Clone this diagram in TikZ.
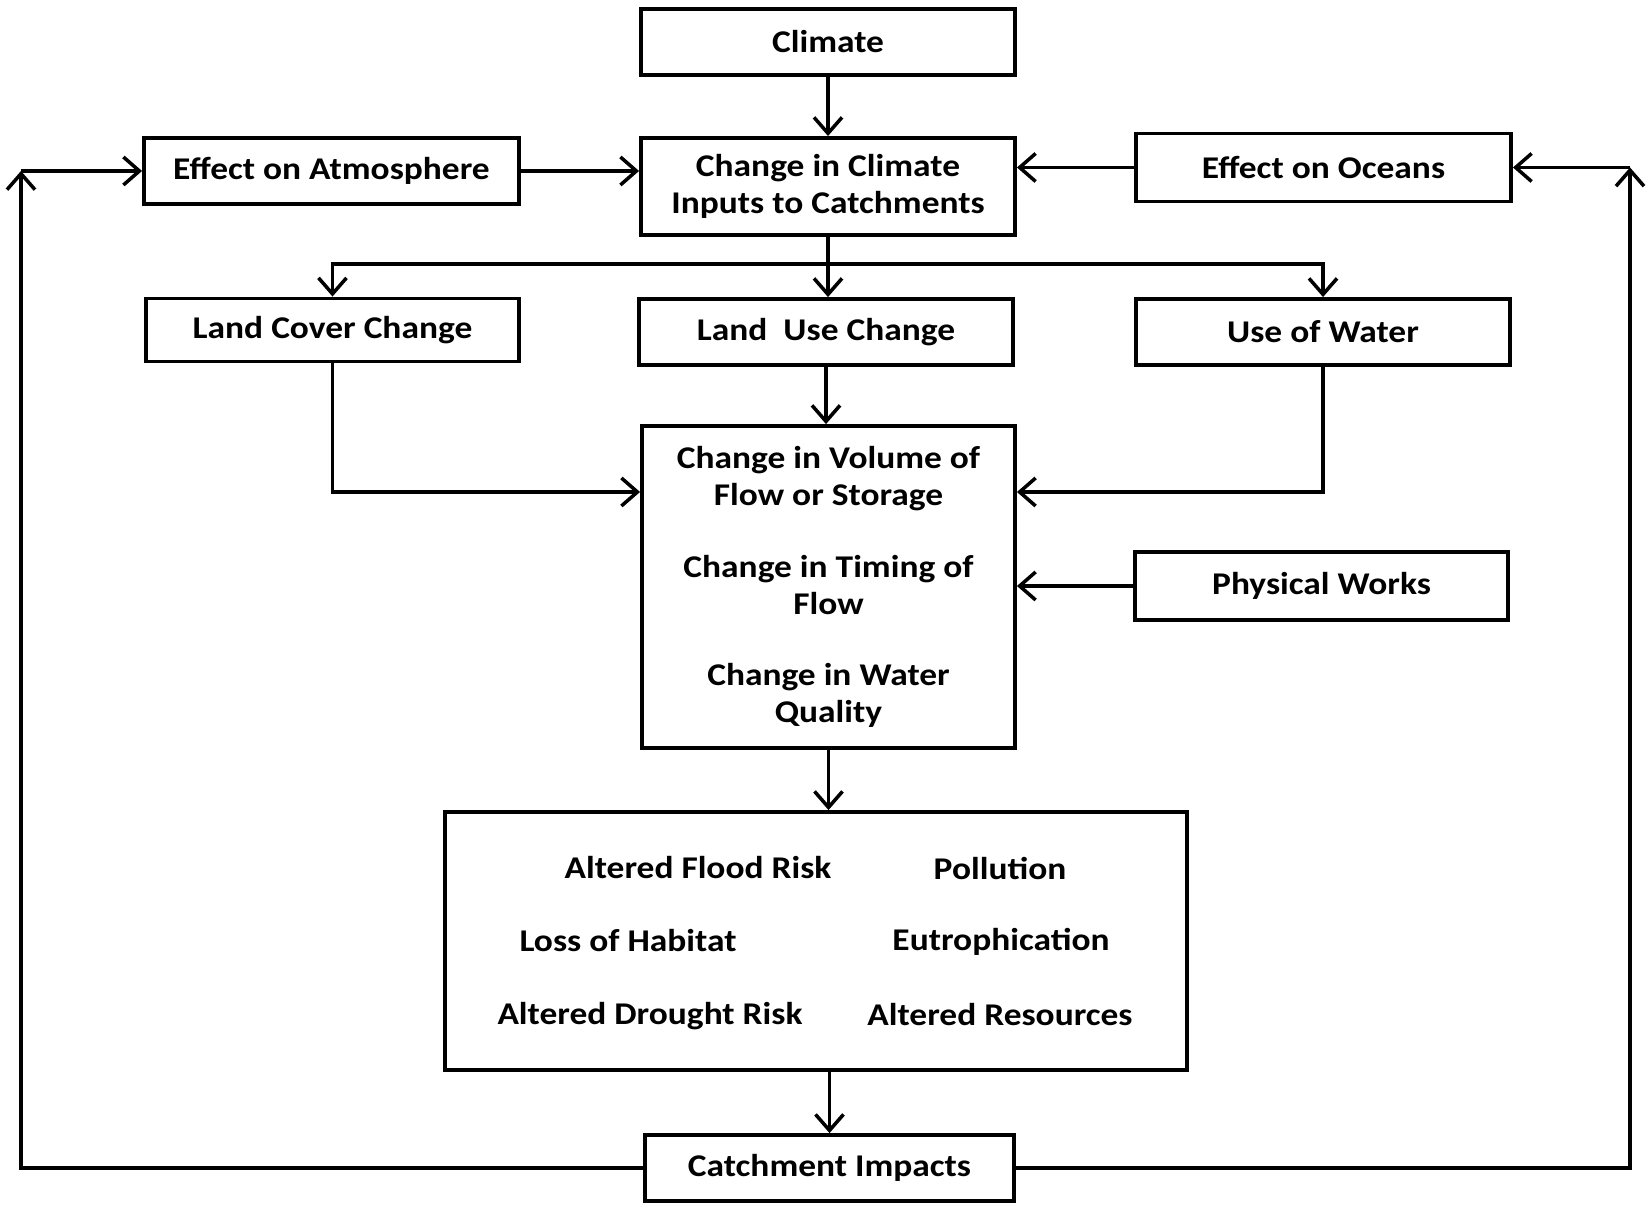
\documentclass[tikz,border=0pt]{standalone}
\usepackage{fontspec}
\setmainfont{Carlito}[FakeStretch=1.12]
\usetikzlibrary{arrows.meta}

\begin{document}
\begin{tikzpicture}[box/.style={draw,line width=1.1pt,minimum width=3.74cm,minimum height=0.66cm,inner sep=0pt,align=center},
  link/.style={-{Straight Barb[length=1.6mm,width=2.8mm]},line width=1pt},
  every node/.append style={font=\fontsize{9}{10.5}\selectfont\bfseries}]
  \useasboundingbox (0,0) rectangle (16.46,-12.05);

  \node[box] (climate) at (8.28,-0.42) {Climate};
  \node[box,minimum height=0.97cm] (inputs) at (8.28,-1.865) {Change in Climate\\Inputs to Catchments};
  \node[box,minimum width=3.75cm] (atmos) at (3.315,-1.71) {Effect on Atmosphere};
  \node[box,minimum width=3.75cm,minimum height=0.68cm] (oceans) at (13.235,-1.675) {Effect on Oceans};

  \node[box,minimum width=3.73cm,minimum height=0.63cm] (cover) at (3.325,-3.30) {Land Cover Change};
  \node[box] (landuse) at (8.26,-3.32) {Land\ \ Use Change};
  \node[box] (water) at (13.23,-3.32) {Use of Water};

  \node[box,minimum width=3.73cm,minimum height=3.22cm] (flow) at (8.285,-5.87)
    {Change in Volume of\\Flow or Storage\\[0.35cm]Change in Timing of\\Flow\\[0.35cm]Change in Water\\Quality};
  \node[box,minimum width=3.73cm,minimum height=0.68cm] (works) at (13.215,-5.86) {Physical Works};

  \node[box,minimum width=7.42cm,minimum height=2.58cm] (impacts) at (8.16,-9.41) {};
  \node (flood) at (6.98,-8.68) {Altered Flood Risk};
  \node (habitat) at (6.28,-9.41) {Loss of Habitat};
  \node (drought) at (6.50,-10.16) {Altered Drought Risk};
  \node (pollution) at (10.00,-8.68) {Pollution};
  \node (eutro) at (10.01,-9.42) {Eutrophication};
  \node (resources) at (10.00,-10.15) {Altered Resources};

  \node[box,minimum width=3.69cm] (catch) at (8.295,-11.68) {Catchment Impacts};

  \coordinate (split) at (8.28,-2.64);
  \coordinate (lc) at (0.21,-1.71);
  \coordinate (rc) at (16.30,-1.675);

  \draw[link] (climate) -- (inputs);
  \draw[link] (atmos) -- (atmos.east -| inputs.west);
  \draw[link] (oceans) -- (oceans.west -| inputs.east);
  \draw[line width=1pt] (inputs.south) -- (split);
  \draw[link] (split) -| (cover.north);
  \draw[link] (split) -- (split |- landuse.north);
  \draw[link] (split) -| (water.north);

  \draw[link] (landuse) -- (landuse.south |- flow.north);
  \draw[link] (cover.south) |- ([yshift=0.95cm]flow.west);
  \draw[link] (water.south) |- ([yshift=0.95cm]flow.east);
  \draw[link] (works) -- (works.west -| flow.east);
  \draw[link] (flow) -- (flow.south |- impacts.north);
  \draw[link] (catch.north |- impacts.south) -- (catch);

  % feedback loops
  \draw[link] (catch.west) -| (lc);
  \draw[link] (lc) -- (atmos);
  \draw[link] (catch.east) -| (rc);
  \draw[link] (rc) -- (oceans);
\end{tikzpicture}
\end{document}
